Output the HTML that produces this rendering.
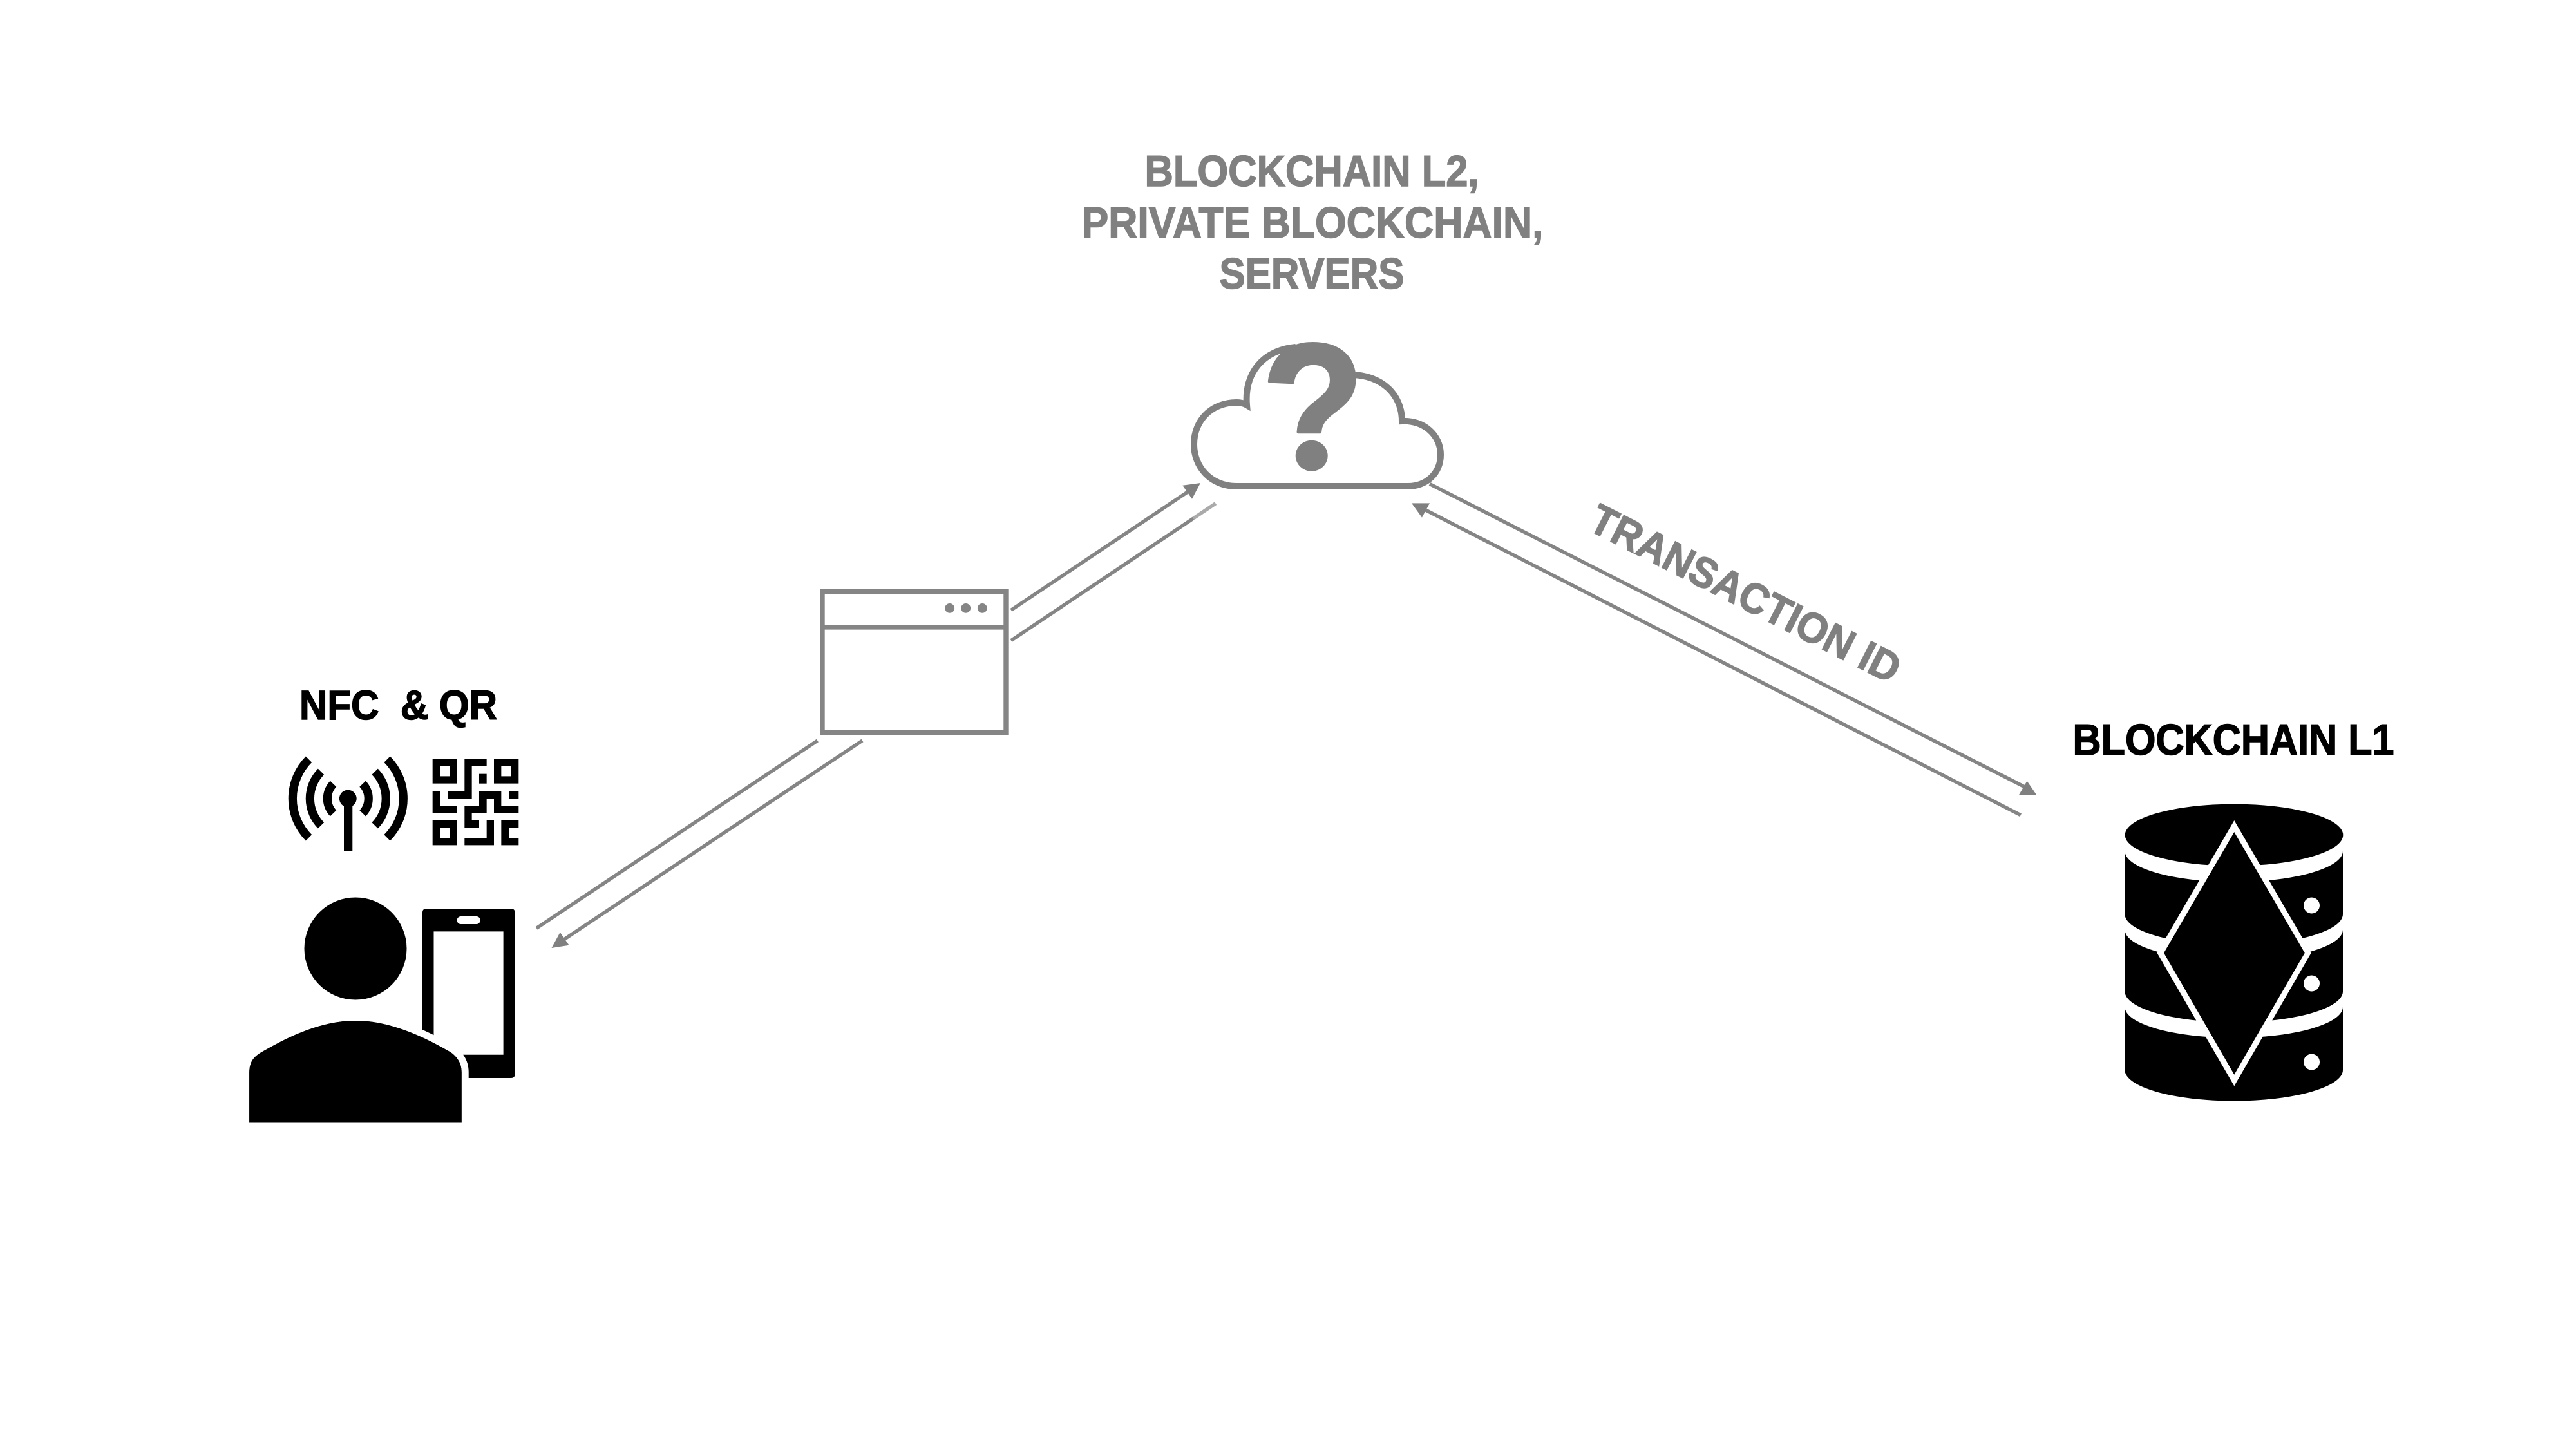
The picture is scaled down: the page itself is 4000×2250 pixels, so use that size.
<!DOCTYPE html>
<html lang="en">
<head>
<meta charset="utf-8">
<title>Blockchain diagram</title>
<style>
html,body{margin:0;padding:0;background:#fff;width:4000px;height:2250px;overflow:hidden}
svg{display:block}
text{font-family:"Liberation Sans",sans-serif;font-weight:700}
</style>
</head>
<body>
<svg xmlns="http://www.w3.org/2000/svg" width="4000" height="2250" viewBox="0 0 4000 2250">
<rect width="4000" height="2250" fill="#fff"/>

<!-- Gray heading -->
<g fill="#808080" stroke="#808080" stroke-width="1.5" font-size="68">
<text x="1777.5" y="289" textLength="519" lengthAdjust="spacingAndGlyphs">BLOCKCHAIN L2,</text>
<text x="1679.5" y="369" textLength="717" lengthAdjust="spacingAndGlyphs">PRIVATE BLOCKCHAIN,</text>
<text x="1893.5" y="448" textLength="287" lengthAdjust="spacingAndGlyphs">SERVERS</text>
</g>

<!-- Cloud -->
<path d="M2100 582 C2145 583 2177 612 2177 654 C2210 652 2237 675 2237 706 C2237 735 2215 755 2186 755 H1920 C1880 755 1854 725 1854 690 C1854 652 1882 625 1920 625 C1926 625 1931 626 1936 629 C1932 580 1960 544 2012 539" fill="none" stroke="#808080" stroke-width="10" stroke-linejoin="miter"/>
<text transform="translate(2038.7,729) scale(.93,1)" font-size="280" fill="#808080" stroke="#808080" stroke-width="5" stroke-linejoin="round" text-anchor="middle">?</text>
<rect x="2000" y="676" width="76" height="60" fill="#fff"/>
<ellipse cx="2036.7" cy="707.7" rx="25" ry="24" fill="#808080"/>

<!-- Browser window -->
<g fill="none" stroke="#858585">
<rect x="1277" y="918.7" width="285" height="219" stroke-width="7.4"/>
<line x1="1277" y1="973.8" x2="1562" y2="973.8" stroke-width="7.6"/>
</g>
<g fill="#858585">
<circle cx="1474.7" cy="944.4" r="7.4"/>
<circle cx="1499.7" cy="944.4" r="7.4"/>
<circle cx="1525.3" cy="944.4" r="7.4"/>
</g>

<!-- Connectors -->
<g stroke="#858585" stroke-width="5.5" fill="none">
<line x1="1570" y1="947.4" x2="1850" y2="760"/>
<line x1="1570" y1="994.6" x2="1853" y2="805"/>
<line x1="1269.4" y1="1150" x2="833" y2="1441.4"/>
<line x1="1339" y1="1150" x2="868" y2="1464"/>
<line x1="2220" y1="751.4" x2="3148" y2="1224"/>
<line x1="2206" y1="788" x2="3137.7" y2="1265.7"/>
</g>
<line x1="1853" y1="805" x2="1887.6" y2="781.7" stroke="#aaa" stroke-width="5.5"/>
<g fill="#808080">
<polygon points="1864,750 1836.3,753.8 1851,774.7"/>
<polygon points="856.5,1472 869.7,1447.8 883.6,1467.8"/>
<polygon points="3162.3,1234.2 3147.5,1212.8 3135,1234.2"/>
<polygon points="2192,781.4 2220,781.4 2208,803.6"/>
</g>

<!-- Transaction ID label -->
<text transform="translate(2463.4,821.5) rotate(27)" font-size="66" fill="#808080" stroke="#808080" stroke-width="1.5" textLength="531" lengthAdjust="spacingAndGlyphs">TRANSACTION ID</text>

<!-- NFC & QR -->
<text x="465" y="1117" font-size="64" fill="#000" stroke="#000" stroke-width="1.5" textLength="307" lengthAdjust="spacingAndGlyphs" xml:space="preserve">NFC  &amp; QR</text>

<!-- Antenna -->
<g fill="none" stroke="#000" stroke-width="13.2">
<path d="M479.5 1179.2 A86 86 0 0 0 479.5 1300.8"/>
<path d="M498.5 1198.2 A59.5 59.5 0 0 0 498.5 1281.8"/>
<path d="M517.5 1217.2 A33 33 0 0 0 517.5 1262.8"/>
<path d="M601.1 1179.2 A86 86 0 0 1 601.1 1300.8"/>
<path d="M582.1 1198.2 A59.5 59.5 0 0 1 582.1 1281.8"/>
<path d="M563.1 1217.2 A33 33 0 0 1 563.1 1262.8"/>
</g>
<circle cx="540.3" cy="1240" r="13.4" fill="#000"/>
<rect x="534" y="1240" width="13.3" height="81.7" fill="#000"/>

<!-- QR code -->
<g transform="translate(430,1160) scale(.33333)" fill="#000" fill-rule="evenodd">
<path d="M725 55H840V170H725Z M760 90V136H806V90Z"/>
<path d="M1011 55H1126V170H1011Z M1045 90V136H1092V90Z"/>
<path d="M725 342H840V457H725Z M760 376V423H806V376Z"/>
<path d="M874 55H977V90H908V240H795V205H874Z"/>
<rect x="942" y="125" width="35" height="45"/>
<rect x="1080" y="205" width="46" height="35"/>
<path d="M725 205H760V273H840V308H725Z"/>
<path d="M942 205H1045V273H1126V308H1011V240H977V308H908V342H942V376H874V273H942Z"/>
<path d="M977 342H1011V457H874V423H977Z"/>
<path d="M1045 342H1126V376H1080V423H1126V457H1045Z"/>
</g>

<!-- Phone -->
<path fill-rule="evenodd" fill="#000" d="M662 1411H793.5Q799.5 1411 799.5 1417V1668Q799.5 1674 793.5 1674H662Q656 1674 656 1668V1417Q656 1411 662 1411Z M673.5 1446.4V1637.8H781.6V1446.4Z"/>
<rect x="709.6" y="1423" width="36.2" height="12" rx="6" fill="#fff"/>

<!-- Person -->
<circle cx="552" cy="1473" r="79.5" fill="#000"/>
<path d="M387.2 1743.5V1665C387.2 1650 393 1642 404 1635C450 1608 500 1585 552 1585C604 1585 655 1608 700 1634C711 1642 716.7 1652 716.7 1665V1743.5Z" fill="#000" stroke="#fff" stroke-width="22" paint-order="stroke"/>
<path d="M387.2 1743.5V1665C387.2 1650 393 1642 404 1635C450 1608 500 1585 552 1585C604 1585 655 1608 700 1634C711 1642 716.7 1652 716.7 1665V1743.5Z" fill="#000"/>

<!-- Blockchain L1 -->
<text x="3218.5" y="1172" font-size="68" fill="#000" stroke="#000" stroke-width="1.5" textLength="499" lengthAdjust="spacingAndGlyphs">BLOCKCHAIN L1</text>

<!-- Database -->
<g fill="#000">
<ellipse cx="3469" cy="1296.6" rx="169.3" ry="48"/>
<path d="M3299.4 1321.5A169.3 48 0 0 0 3638 1321.5V1419.5A169.3 48 0 0 1 3299.4 1419.5Z"/>
<path d="M3299.4 1443.5A169.3 48 0 0 0 3638 1443.5V1539.5A169.3 48 0 0 1 3299.4 1539.5Z"/>
<path d="M3299.4 1563.5A169.3 48 0 0 0 3638 1563.5V1661.5A169.3 48 0 0 1 3299.4 1661.5Z"/>
</g>
<g fill="#fff">
<circle cx="3589.5" cy="1406" r="12.5"/>
<circle cx="3589.5" cy="1527" r="12.5"/>
<circle cx="3589.5" cy="1649" r="12.5"/>
<polygon points="3469.3,1274 3588.7,1479.7 3469.3,1686.4 3349.5,1479.7"/>
</g>
<polygon points="3469.3,1292 3578.8,1479.7 3469.3,1668.7 3360,1479.7" fill="#000"/>
</svg>
</body>
</html>
